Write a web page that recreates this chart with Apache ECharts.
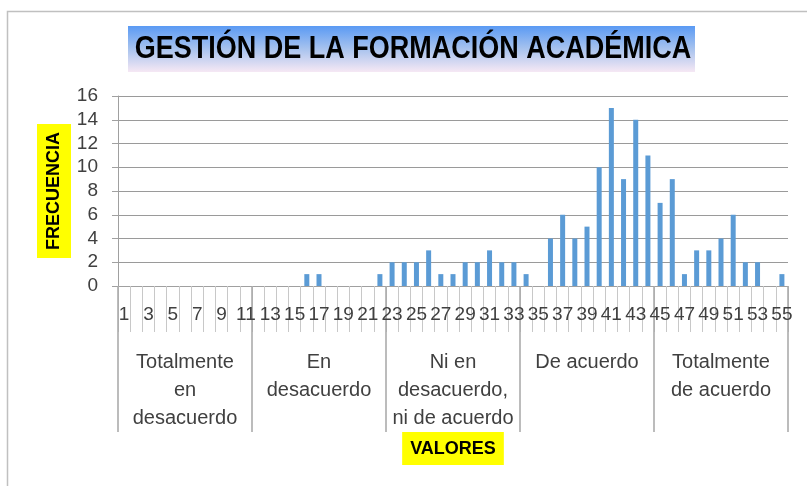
<!DOCTYPE html>
<html>
<head>
<meta charset="utf-8">
<script src="https://cdn.jsdelivr.net/npm/echarts@6/dist/echarts.min.js"></script>
<style>
  html, body { margin: 0; background: #fff; }
  #chart { width: 807px; height: 486px; }
</style>
</head>
<body>
<div id="chart"></div>
<script>
const valores = [
  '1', '2', '3', '4', '5', '6', '7', '8', '9', '10',
  '11', '12', '13', '14', '15', '16', '17', '18', '19', '20',
  '21', '22', '23', '24', '25', '26', '27', '28', '29', '30',
  '31', '32', '33', '34', '35', '36', '37', '38', '39', '40',
  '41', '42', '43', '44', '45', '46', '47', '48', '49', '50',
  '51', '52', '53', '54', '55'
];
const frecuencia = [
  0, 0, 0, 0, 0, 0, 0, 0, 0, 0,
  0, 0, 0, 0, 0, 1, 1, 0, 0, 0,
  0, 1, 2, 2, 2, 3, 1, 1, 2, 2,
  3, 2, 2, 1, 0, 4, 6, 4, 5, 10,
  15, 9, 14, 11, 7, 9, 1, 3, 3, 4,
  6, 2, 2, 0, 1
];
const grupos = [
  'Totalmente\nen\ndesacuerdo',
  'En\ndesacuerdo',
  'Ni en\ndesacuerdo,\nni de acuerdo',
  'De acuerdo',
  'Totalmente\nde acuerdo'
];
const yMin = 0;
const yMax = 16;
const yStep = 2;

const font = 'Liberation Sans';
const textColor = '#404040';

const chart = echarts.init(document.getElementById('chart'));
chart.setOption({
    animation: false,
    graphic: [
        {
            type: 'rect',
            shape: { x: 7.5, y: 11.5, width: 900, height: 600 },
            style: { fill: 'none', stroke: '#c0c0c0', lineWidth: 1.5 },
            z: -10
        },
        {
            type: 'rect',
            shape: { x: 128, y: 26, width: 567, height: 46 },
            style: {
                fill: new echarts.graphic.LinearGradient(0, 0, 0, 1, [
                    { offset: 0, color: '#5a9af4' },
                    { offset: 0.5, color: '#a8c3ee' },
                    { offset: 1, color: '#f6e8f4' }
                ])
            }
        },
        {
            type: 'text',
            x: 413, y: 49,
            scaleY: 1.18,
            style: {
                text: 'GESTIÓN DE LA FORMACIÓN ACADÉMICA',
                font: 'bold 27px "Liberation Sans"',
                fill: '#000',
                align: 'center',
                verticalAlign: 'middle',
                shadowColor: 'rgba(0,0,0,0.35)',
                shadowBlur: 2,
                shadowOffsetX: 1,
                shadowOffsetY: 1
            }
        }
    ],
    grid: { left: 118, right: 19, top: 96, bottom: 200 },
    xAxis: [
        {
            type: 'category',
            data: valores,
            axisLine: { show: true, lineStyle: { color: '#a0a0a0', width: 1 } },
            axisTick: { show: true, interval: 0, length: 46, lineStyle: { color: '#c8c8c8' } },
            axisLabel: {
                interval: 1,
                margin: 19,
                fontFamily: font,
                fontSize: 19,
                color: textColor
            },
            splitLine: { show: false }
        },
        {
            type: 'category',
            data: grupos,
            position: 'bottom',
            axisLine: { show: false },
            axisTick: { show: true, interval: 0, length: 146, lineStyle: { color: '#a6a6a6', width: 1.5 } },
            axisLabel: {
                interval: 0,
                margin: 62,
                fontFamily: font,
                fontSize: 20,
                lineHeight: 28,
                color: textColor
            },
            name: 'VALORES',
            nameLocation: 'middle',
            nameGap: 146,
            nameMoveOverlap: false,
            nameTextStyle: {
                fontFamily: font,
                fontWeight: 'bold',
                fontSize: 18,
                color: '#000',
                backgroundColor: '#ffff00',
                padding: [8, 8, 7, 8],
                verticalAlign: 'top'
            }
        }
    ],
    yAxis: {
        type: 'value',
        min: yMin,
        max: yMax,
        interval: yStep,
        axisLine: { show: true, lineStyle: { color: '#a0a0a0' } },
        axisTick: { show: true, length: 6, lineStyle: { color: '#a0a0a0' } },
        axisLabel: {
            margin: 20,
            fontFamily: font,
            fontSize: 19,
            color: textColor
        },
        splitLine: { lineStyle: { color: '#9a9a9a', width: 1 } },
        name: 'FRECUENCIA',
        nameLocation: 'middle',
        nameRotate: 90,
        nameGap: 47,
        nameMoveOverlap: false,
        nameTextStyle: {
            fontFamily: font,
            fontWeight: 'bold',
            fontSize: 18,
            color: '#000',
            backgroundColor: '#ffff00',
            padding: [8, 8, 8, 8],
            verticalAlign: 'bottom'
        }
    },
    series: [
        {
            type: 'bar',
            data: frecuencia,
            barWidth: 5,
            itemStyle: { color: '#5b9bd5' }
        }
    ]
});
</script>
</body>
</html>
